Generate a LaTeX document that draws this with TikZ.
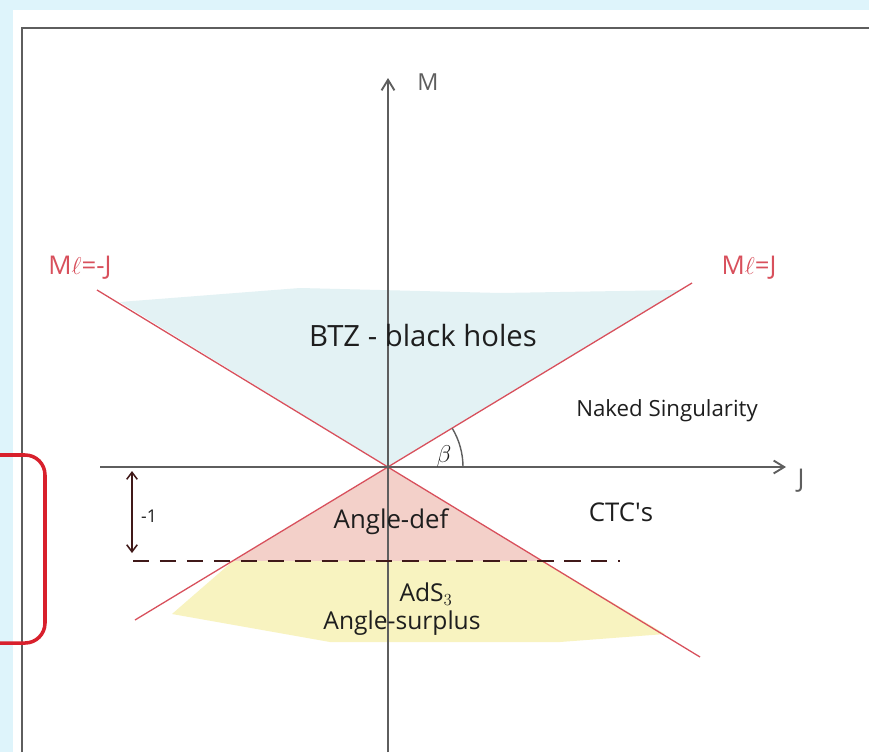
\documentclass[tikz,border=0pt]{standalone}
\usepackage{fontspec}
\setmainfont{Open Sans}
\usepackage{tikz}
\usetikzlibrary{arrows.meta,positioning,calc}
\definecolor{sheetblue}{HTML}{DEF4FB}
\definecolor{pencilgray}{HTML}{5E5E5E}
\definecolor{inkblack}{HTML}{1E1E1E}
\definecolor{crayonred}{HTML}{D8505C}
\definecolor{boxred}{HTML}{D8202C}
\definecolor{holeblue}{HTML}{E3F2F4}
\definecolor{defpink}{HTML}{F3D0C9}
\definecolor{surpyellow}{HTML}{F8F3C0}

\begin{document}
\begin{tikzpicture}[x=0.03cm, y=-0.03cm,
  hand/.style={text=inkblack, inner sep=0pt, font=\fontsize{21}{23}\selectfont},
  redhand/.style={text=crayonred, inner sep=0pt, font=\fontsize{22}{24}\selectfont},
  pencil/.style={draw=pencilgray, line width=1.6pt},
  ray/.style={draw=crayonred, line width=1.1pt}]
\useasboundingbox (0,0) rectangle (869,752);
\fill[sheetblue] (0,0) rectangle (869,752);
\fill[white] (13,10) rectangle (869,752);
\draw[pencil] (22,752) -- (22,28) -- (869,28);

\coordinate (O) at (388,467);
\coordinate (Mbot) at (388,752);
\coordinate (Mtop) at (388,78);
\coordinate (Jleft) at (100,467);
\coordinate (Jright) at (786,467);
\coordinate (plusTop) at (692,283);
\coordinate (plusBot) at (135,620);
\coordinate (minusTop) at (97,290);
\coordinate (minusBot) at (700,657);
\coordinate (defL) at (233,561);
\coordinate (defR) at (543,561);

\fill[holeblue] (O) -- (120,302) -- (300,288) -- (500,293) -- (680,290) -- cycle;
\fill[defpink] (O) -- (defL) -- (defR) -- cycle;
\fill[surpyellow] (defL) -- (defR) -- (665,634) -- (560,642) -- (330,642) -- (172,614) -- cycle;

\draw[ray] (minusTop) -- (minusBot);
\draw[ray] (plusTop) -- (plusBot);
\draw[pencil, -{Straight Barb[length=9pt,width=11pt]}] (Mbot) -- (Mtop);
\draw[pencil, -{Straight Barb[length=9pt,width=11pt]}] (Jleft) -- (Jright);
\draw[pencil, line width=1.2pt] (O) ++(75,0) arc[start angle=0, end angle=-31, radius=75];

\coordinate (dashL) at (133,561);
\coordinate (dashR) at (620,561);
\draw[draw=inkblack!85!red, line width=2pt, dash pattern=on 14pt off 9pt] (dashL) -- (dashR);
\coordinate (unitTop) at (132,471);
\coordinate (unitBot) at (132,553);
\draw[draw=inkblack!85!red, line width=1.3pt, {Straight Barb[length=6pt,width=9pt]}-{Straight Barb[length=6pt,width=9pt]}] (unitTop) -- (unitBot);

\draw[boxred, line width=3pt, rounded corners=17pt] (-30,455) rectangle (45,643);

\node[hand, text=pencilgray, font=\fontsize{20}{22}\selectfont] (Mlab) at (428,82) {M};
\node[hand, text=pencilgray, font=\fontsize{22}{24}\selectfont] (Jlab) at (801,481) {J};
\node[redhand] (minusLab) at (80,268) {M$\ell$=-J};
\node[redhand] (plusLab) at (749,268) {M$\ell$=J};
\node[hand, font=\fontsize{25}{28}\selectfont] (btz) at (423,336) {BTZ - black holes};
\node[hand, font=\fontsize{19}{21}\selectfont] (naked) at (667,411) {Naked Singularity};
\node[hand, font=\fontsize{21}{22}\selectfont] (beta) at (444,456) {$\beta$};
\node[hand, font=\fontsize{22}{24}\selectfont] (ctc) at (621,512) {CTC\textquotesingle s};
\node[hand, font=\fontsize{22}{24}\selectfont] (adef) at (391,522) {Angle-def};
\node[hand] (ads) at (426,594) {AdS$_3$};
\node[hand] (asurp) at (402,623) {Angle-surplus};
\node[hand, font=\fontsize{15}{16}\selectfont] (unitLab) at (149,516) {-1};
\end{tikzpicture}
\end{document}
